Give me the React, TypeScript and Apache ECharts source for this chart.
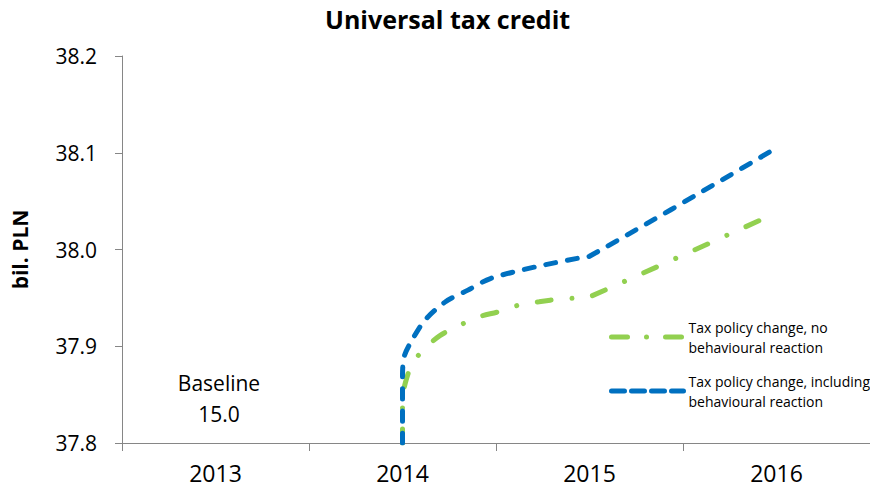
import React, { useEffect, useRef } from "react";
import * as echarts from "echarts";

const years = ["2013", "2014", "2015", "2016"];
const yTicks = { min: 37.8, max: 38.2, interval: 0.1 };

const greenName = "Tax policy change, no behavioural reaction";
const blueName = "Tax policy change, including behavioural reaction";

// [year position, bil. PLN]
const greenData: [number, number][] = [
  [2014, 37.8], [2014, 37.845], [2014.015, 37.862], [2014.05, 37.881],
  [2014.11, 37.896], [2014.2, 37.911], [2014.31, 37.922], [2014.4, 37.93],
  [2014.52, 37.936], [2014.63, 37.943], [2014.73, 37.946], [2014.85, 37.949],
  [2014.96, 37.95], [2015.0, 37.951], [2016.0, 38.038],
];
const blueData: [number, number][] = [
  [2014, 37.8], [2014, 37.87], [2014.01, 37.89], [2014.05, 37.906],
  [2014.12, 37.927], [2014.23, 37.946], [2014.35, 37.958], [2014.47, 37.97],
  [2014.71, 37.982], [2014.94, 37.991], [2015.0, 37.993], [2016.0, 38.105],
];

const baselineText = "Baseline\n15.0";
const FONT = "Open Sans";
const GREEN = "#92D050";
const BLUE = "#0070C0";
const greenDash = [14, 21, 0.01, 21];
const blueDash = [10, 12];

export default function App() {
  const ref = useRef<HTMLDivElement>(null);
  useEffect(() => {
    if (!ref.current) return;
    const chart = echarts.init(ref.current, null, { renderer: "svg" });
    const legendText = {
      fontFamily: FONT,
      fontSize: 14,
      lineHeight: 20,
      color: "#000",
      padding: [20, 0, 0, 0],
    };
    const legendFormatter = (n: string) =>
      n === greenName
        ? "Tax policy change, no\nbehavioural reaction"
        : "Tax policy change, including\nbehavioural reaction";
    chart.setOption({
      animation: false,
      backgroundColor: "#fff",
      textStyle: { fontFamily: FONT },
      title: {
        text: "Universal tax credit",
        left: 320,
        top: 1,
        textStyle: { fontFamily: FONT, fontSize: 25, fontWeight: "bold", color: "#000" },
      },
      grid: { left: 122, top: 56, width: 752, height: 387, containLabel: false },
      legend: [
        {
          data: [greenName],
          left: 609,
          top: 307,
          padding: 0,
          itemWidth: 72,
          itemHeight: 14,
          itemStyle: { opacity: 0 },
          lineStyle: { color: GREEN, width: 5, type: [16, 19, 0.01, 19], cap: "round" },
          textStyle: legendText,
          formatter: legendFormatter,
        },
        {
          data: [blueName],
          left: 609,
          top: 361,
          padding: 0,
          itemWidth: 72,
          itemHeight: 14,
          itemStyle: { opacity: 0 },
          lineStyle: { color: BLUE, width: 5, type: [13, 7], cap: "round" },
          textStyle: legendText,
          formatter: legendFormatter,
        },
      ],
      xAxis: [
        {
          type: "category",
          data: years,
          boundaryGap: true,
          axisLine: { lineStyle: { color: "#868686", width: 1 } },
          axisTick: { show: true, length: 8, alignWithLabel: false, lineStyle: { color: "#868686" } },
          axisLabel: { fontFamily: FONT, fontSize: 23, color: "#000", margin: 18 },
          splitLine: { show: false },
        },
        {
          type: "value",
          min: 2012.5,
          max: 2016.5,
          show: false,
        },
      ],
      yAxis: {
        type: "value",
        min: yTicks.min,
        max: yTicks.max,
        interval: yTicks.interval,
        name: "bil. PLN",
        nameLocation: "middle",
        nameGap: 92,
        nameTextStyle: { fontFamily: FONT, fontSize: 21, fontWeight: "bold", color: "#000" },
        axisLine: { show: true, lineStyle: { color: "#868686", width: 1 } },
        axisTick: { show: true, length: 7, lineStyle: { color: "#868686" } },
        axisLabel: {
          fontFamily: FONT,
          fontSize: 21,
          color: "#000",
          margin: 25,
          formatter: (v: number) => v.toFixed(1),
        },
        splitLine: { show: false },
      },
      series: [
        {
          name: greenName,
          type: "line",
          xAxisIndex: 1,
          data: greenData,
          symbol: "none",
          smooth: 0.3,
          color: GREEN,
          lineStyle: { color: GREEN, width: 5, type: greenDash, cap: "round" },
        },
        {
          name: blueName,
          type: "line",
          xAxisIndex: 1,
          data: blueData,
          symbol: "none",
          smooth: 0.3,
          color: BLUE,
          lineStyle: { color: BLUE, width: 5, type: blueDash, cap: "round" },
        },
      ],
      graphic: [
        {
          type: "text",
          x: 219,
          y: 367,
          style: {
            text: baselineText,
            fontFamily: FONT,
            fontSize: 21,
            lineHeight: 31,
            fill: "#000",
            textAlign: "center",
            textVerticalAlign: "top",
          },
        },
      ],
    });
    return () => chart.dispose();
  }, []);
  return (
    <div
      ref={ref}
      style={{ position: "fixed", left: 0, top: 0, width: 870, height: 494 }}
    />
  );
}
